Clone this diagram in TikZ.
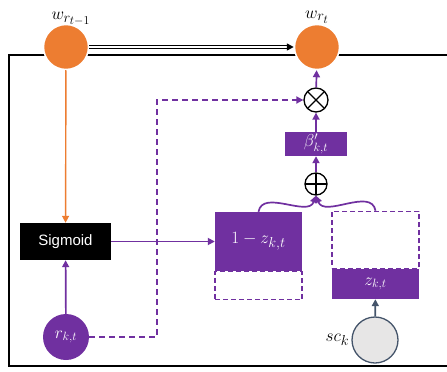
\documentclass[tikz,border=0pt]{standalone}
\usepackage{amsmath}
\usepackage{fontspec}
\newfontfamily\arialfont{Liberation Sans}
\usetikzlibrary{arrows.meta}
\DeclareMathSizes{18}{18}{14}{11.5}
\DeclareMathSizes{17}{17}{13}{11}
\DeclareMathSizes{16}{16}{12.5}{10}
\definecolor{gatepurple}{HTML}{7030A0}
\definecolor{memorange}{HTML}{ED7D31}
\definecolor{slate}{HTML}{44546A}
\definecolor{lightgray}{HTML}{E7E6E6}

\begin{document}
\begin{tikzpicture}[x=1pt, y=-1pt,
  >={Triangle[length=7pt,width=7pt]},
  memnode/.style={circle, fill=memorange, draw=white, line width=1.5pt, minimum size=45pt, inner sep=0pt},
  opnode/.style={circle, draw=black, line width=1.3pt, fill=white, inner sep=0pt},
  gatebox/.style={fill=gatepurple, text=white, inner sep=0pt, font=\fontsize{17}{20}\selectfont},
  emptybox/.style={draw=gatepurple, dash pattern=on 5pt off 3pt, line width=1.1pt, inner sep=0pt},
  flow/.style={->, draw=gatepurple, line width=1.7pt},
  dflow/.style={flow, dash pattern=on 6pt off 4pt}]
  \useasboundingbox (0,0) rectangle (447,372);
  % outer frame, open to the right
  \draw[line width=1.2pt] (447,55) -- (9,55) -- (9,366) -- (447,366);

  % memory nodes
  \node[memnode] (wprev) at (66,47) {};
  \node[memnode] (wcur) at (317,47) {};
  \node[font=\fontsize{18}{21}\selectfont] at (71,19) {$w_{r_{t-1}}$};
  \node[font=\fontsize{18}{21}\selectfont] at (317,17) {$w_{r_t}$};

  % operators
  \node[opnode, minimum size=24pt, path picture={
      \draw[line width=1.3pt] (path picture bounding box.north west) -- (path picture bounding box.south east)
        (path picture bounding box.south west) -- (path picture bounding box.north east);}] (mul) at (316,100) {};
  \node[opnode, minimum size=22pt, path picture={
      \draw[line width=1.3pt] (path picture bounding box.north) -- (path picture bounding box.south)
        (path picture bounding box.west) -- (path picture bounding box.east);}] (add) at (316,184) {};

  % gates
  \node[gatebox, minimum width=62pt, minimum height=24pt] (beta) at (316,144) {$\beta'_{k,t}$};
  \node[gatebox, minimum width=87pt, minimum height=59pt, font=\fontsize{18}{21}\selectfont] (onez) at (258.5,241.5) {$1-z_{k,t}$};
  \node[emptybox, minimum width=87pt, minimum height=28pt, anchor=north] (onezrest) at (onez.south) {};
  \node[gatebox, minimum width=87pt, minimum height=30pt, font=\fontsize{16}{19}\selectfont] (zgate) at (375.5,284) {$z_{k,t}$};
  \node[emptybox, minimum width=87pt, minimum height=57pt, anchor=south] (zrest) at (zgate.north) {};

  \node[fill=black, text=white, minimum width=91pt, minimum height=37pt, inner sep=0pt,
        font=\arialfont\fontsize{15}{18}\selectfont] (sig) at (65.5,241.5) {Sigmoid};

  % inputs
  \node[circle, fill=gatepurple, text=white, minimum size=46pt, inner sep=0pt,
        font=\fontsize{17}{20}\selectfont] (rkt) at (66,337) {$r_{k,t}$};
  \node[circle, fill=lightgray, draw=slate, line width=1.3pt, minimum size=46pt] (sc) at (375,340) {};
  \node[anchor=east, inner sep=2pt, font=\fontsize{18}{21}\selectfont] at (sc.west) {$sc_k$};
  \coordinate (bend) at (157,100);

  % connectors
  \draw[->, black, line width=1.4pt, double, double distance=1.2pt] (wprev) -- (wcur);
  \draw[->, memorange, line width=1.4pt] (wprev) -- (sig);
  \draw[flow] (rkt) -- (sig);
  \draw[flow] (sig) -- (onez);
  \draw[dflow] (rkt.east) -| (bend) -- (mul);
  \draw[->, slate, line width=1.7pt] (sc) -- (zgate);
  \draw[flow] (onez.north) to[out=80, in=-110] (add.south);
  \draw[flow] (zrest.north) to[out=100, in=-70] (add.south);
  \draw[flow] (add) -- (beta);
  \draw[flow] (beta) -- (mul);
  \draw[flow] (mul) -- (wcur);
\end{tikzpicture}
\end{document}
